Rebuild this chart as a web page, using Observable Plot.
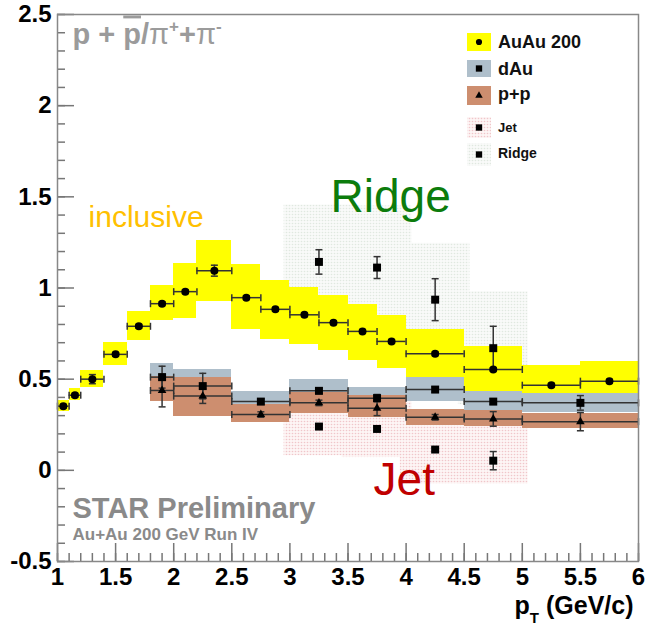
<!DOCTYPE html>
<html><head><meta charset="utf-8">
<script src="https://cdn.jsdelivr.net/npm/d3@7"></script>
<script src="https://cdn.jsdelivr.net/npm/@observablehq/plot@0.6"></script>
<style>
html,body{margin:0;padding:0;background:#fff;}
#wrap{position:relative;width:646px;height:629px;}
</style></head><body>
<svg width="0" height="0" style="position:absolute">
<defs>
<pattern id="jetDots" width="3" height="3" patternUnits="userSpaceOnUse"><rect width="3" height="3" fill="#fdf5f5"/><circle cx="1.5" cy="1.5" r="0.8" fill="#f0c6ca"/></pattern>
<pattern id="ridgeDots" width="3" height="3" patternUnits="userSpaceOnUse"><rect width="3" height="3" fill="#f9faf9"/><circle cx="1.5" cy="1.5" r="0.8" fill="#e0e8e0"/></pattern>
</defs></svg>
<div id="wrap"></div>
<script>
// ---------- Data ----------
// Au+Au 200 inclusive (p+pbar)/(pi+ + pi-)
const auX     = [1.05,1.15,1.3,1.5,1.7,1.9,2.1,2.35,2.625,2.875,3.125,3.375,3.625,3.875,4.25,4.75,5.25,5.75];
const auBinLo = [1.0,1.1,1.2,1.4,1.6,1.8,2.0,2.2,2.5,2.75,3.0,3.25,3.5,3.75,4.0,4.5,5.0,5.5];
const auBinHi = [1.1,1.2,1.4,1.6,1.8,2.0,2.2,2.5,2.75,3.0,3.25,3.5,3.75,4.0,4.5,5.0,5.5,6.0];
const auY     = [0.352,0.412,0.50,0.636,0.79,0.914,0.98,1.095,0.947,0.883,0.853,0.81,0.762,0.707,0.639,0.553,0.467,0.489];
const auErr   = [0.01,0.01,0.025,0.01,0.01,0.01,0.01,0.03,0.01,0.01,0.01,0.01,0.01,0.01,0.01,0.01,0.01,0.01];
const auSysLo = [0.32,0.383,0.455,0.575,0.71,0.82,0.835,0.925,0.775,0.72,0.69,0.655,0.605,0.56,0.51,0.43,0.42,0.42];
const auSysHi = [0.385,0.447,0.548,0.703,0.872,1.015,1.133,1.26,1.13,1.042,1.005,0.96,0.908,0.85,0.773,0.68,0.575,0.595];

// d+Au and p+p
const dpX     = [1.9,2.25,2.75,3.25,3.75,4.25,4.75,5.5];
const dpBinLo = [1.8,2.0,2.5,3.0,3.5,4.0,4.5,5.0];
const dpBinHi = [2.0,2.5,3.0,3.5,4.0,4.5,5.0,6.0];
const dY      = [0.511,0.462,0.377,0.436,0.396,0.443,0.377,0.37];
const dErr    = [0.06,0.07,0.015,0.015,0.02,0.015,0.015,0.04];
const dSysLo  = [0.434,0.37,0.322,0.372,0.336,0.375,0.325,0.319];
const dSysHi  = [0.588,0.551,0.432,0.50,0.456,0.507,0.432,0.423];
const pY      = [0.438,0.407,0.306,0.37,0.34,0.291,0.282,0.267];
const pErr    = [0.09,0.04,0.015,0.015,0.04,0.015,0.04,0.05];
const pSysLo  = [0.375,0.295,0.265,0.31,0.291,0.245,0.24,0.232];
const pSysHi  = [0.515,0.51,0.36,0.425,0.41,0.335,0.328,0.313];

// Jet and Ridge
const jrX     = [3.25,3.75,4.25,4.75];
const jrBinLo = [2.95,3.45,3.95,4.45];
const jrBinHi = [3.55,4.05,4.55,5.05];
const rY      = [1.143,1.112,0.936,0.67];
const rErr    = [0.067,0.06,0.115,0.12];
const rSysLo  = [0.833,0.80,0.626,0.36];
const rSysHi  = [1.455,1.45,1.245,0.98];
const jY      = [0.24,0.227,0.114,0.053];
const jErr    = [0.01,0.01,0.01,0.05];
const jSysLo  = [0.08,0.07,-0.075,-0.075];
const jSysHi  = [0.40,0.39,0.30,0.25];

// Axis ticks
const xTicks = [1,1.5,2,2.5,3,3.5,4,4.5,5,5.5,6];
const yTicks = [-0.5,0,0.5,1,1.5,2,2.5];
const xMinor = d3.range(10, 61).map(d => d / 10);
const yMinor = d3.range(-5, 26).map(d => d / 10);

// ---------- Build tables ----------
const mk = (X, lo, hi, Y, E, S1, S2) => X.map((x, i) => ({x, lo: lo[i], hi: hi[i], y: Y[i], e: E[i], s1: S1[i], s2: S2[i]}));
const au = mk(auX, auBinLo, auBinHi, auY, auErr, auSysLo, auSysHi);
const dau = mk(dpX, dpBinLo, dpBinHi, dY, dErr, dSysLo, dSysHi);
const pp = mk(dpX, dpBinLo, dpBinHi, pY, pErr, pSysLo, pSysHi);
const ridge = mk(jrX, jrBinLo, jrBinHi, rY, rErr, rSysLo, rSysHi);
const jet = mk(jrX, jrBinLo, jrBinHi, jY, jErr, jSysLo, jSysHi);

const capH = {draw(ctx, size) { const r = Math.sqrt(size / Math.PI); ctx.moveTo(-r, 0); ctx.lineTo(r, 0); }};
const capV = {draw(ctx, size) { const r = Math.sqrt(size / Math.PI); ctx.moveTo(0, -r); ctx.lineTo(0, r); }};
const EC = "#333";
function errMarks(data, horiz) {
  const m = [];
  if (horiz) {
    m.push(Plot.ruleY(data, {y: "y", x1: "lo", x2: "hi", stroke: EC, strokeWidth: 1.5}));
    m.push(Plot.dot(data, {x: "lo", y: "y", symbol: capV, r: 3.5, fill: "none", stroke: EC, strokeWidth: 1.5}));
    m.push(Plot.dot(data, {x: "hi", y: "y", symbol: capV, r: 3.5, fill: "none", stroke: EC, strokeWidth: 1.5}));
  }
  m.push(Plot.ruleX(data, {x: "x", y1: d => d.y - d.e, y2: d => d.y + d.e, stroke: EC, strokeWidth: 1.5}));
  m.push(Plot.dot(data, {x: "x", y: d => d.y - d.e, symbol: capH, r: 3.5, fill: "none", stroke: EC, strokeWidth: 1.5}));
  m.push(Plot.dot(data, {x: "x", y: d => d.y + d.e, symbol: capH, r: 3.5, fill: "none", stroke: EC, strokeWidth: 1.5}));
  return m;
}
const FONT = "'Liberation Sans', Arial, Helvetica, sans-serif";
const W = 646, H = 629, ML = 57, MR = 8, MT = 14, MB = 68;
const FW = W - ML - MR, FH = H - MT - MB;
const TITLE = "p + p/π+π-";
const XLABEL = "pT (GeV/c)";

const chart = Plot.plot({
  width: W, height: H,
  marginLeft: ML, marginRight: MR, marginTop: MT, marginBottom: MB,
  style: {fontFamily: FONT, background: "white", overflow: "visible"},
  x: {domain: [1, 6]},
  y: {domain: [-0.5, 2.5]},
  marks: [
    Plot.rect(ridge, {x1: "lo", x2: "hi", y1: "s1", y2: "s2", fill: "url(#ridgeDots)"}),
    Plot.rect(jet, {x1: "lo", x2: "hi", y1: "s1", y2: "s2", fill: "url(#jetDots)"}),
    Plot.rect(au, {x1: "lo", x2: "hi", y1: "s1", y2: "s2", fill: "#ffff00", shapeRendering: "crispEdges"}),
    Plot.rect(dau, {x1: "lo", x2: "hi", y1: "s1", y2: "s2", fill: "#afbfcb", shapeRendering: "crispEdges"}),
    Plot.rect(pp, {x1: "lo", x2: "hi", y1: "s1", y2: "s2", fill: "#cd8e6f", shapeRendering: "crispEdges"}),
    ...errMarks(au, true),
    ...errMarks(dau, true),
    ...errMarks(pp, true),
    ...errMarks(ridge, false),
    ...errMarks(jet, false),
    Plot.dot(au, {x: "x", y: "y", r: 4, fill: "black"}),
    Plot.dot(dau, {x: "x", y: "y", symbol: "square", r: 4.5, fill: "black"}),
    Plot.dot(pp, {x: "x", y: "y", symbol: "triangle", r: 3.2, fill: "black"}),
    Plot.dot(ridge, {x: "x", y: "y", symbol: "square", r: 4.5, fill: "black"}),
    Plot.dot(jet, {x: "x", y: "y", symbol: "square", r: 4.5, fill: "black"}),
    // ticks (inward)
    Plot.tickX(xMinor, {x: d => d, insetTop: FH - 8, stroke: "#777", strokeWidth: 1.5}),
    Plot.tickX(xTicks, {x: d => d, insetTop: FH - 18, stroke: "#777", strokeWidth: 1.5}),
    Plot.tickY(yMinor, {y: d => d, insetRight: FW - 8, stroke: "#777", strokeWidth: 1.5}),
    Plot.tickY(yTicks, {y: d => d, insetRight: FW - 17, stroke: "#777", strokeWidth: 1.5}),
    Plot.frame({stroke: "#888", strokeWidth: 1.5}),
    Plot.axisX({ticks: xTicks, tickSize: 0, tickPadding: 6, tickFormat: d => String(d), fontSize: 24, fontWeight: "bold", label: null, fill: "black"}),
    Plot.axisY({ticks: yTicks, tickSize: 0, tickPadding: 6, tickFormat: d => String(d), fontSize: 24, fontWeight: "bold", label: null, fill: "black"}),
    // annotations
    Plot.text(["inclusive"], {x: 1.267, y: 1.335, text: d => d, textAnchor: "start", lineAnchor: "bottom", fontSize: 30, fill: "#ffc000"}),
    Plot.text(["Ridge"], {x: 3.35, y: 1.418, text: d => d, textAnchor: "start", lineAnchor: "bottom", fontSize: 46, fill: "#0c7c0c"}),
    Plot.text(["Jet"], {x: 3.72, y: -0.137, text: d => d, textAnchor: "start", lineAnchor: "bottom", fontSize: 46, fill: "#c00000"}),
    Plot.text([TITLE], {frameAnchor: "top-left", dx: 15, dy: 29, text: d => d, textAnchor: "start", lineAnchor: "bottom", fontSize: 29, fontWeight: "bold", fill: "#9b9b9b"}),
    Plot.text(["STAR Preliminary"], {frameAnchor: "bottom-left", dx: 15, dy: -43.7, text: d => d, textAnchor: "start", lineAnchor: "bottom", fontSize: 29, fontWeight: "bold", fill: "#8a8a8a"}),
    Plot.text(["Au+Au 200 GeV Run IV"], {frameAnchor: "bottom-left", dx: 15, dy: -21.7, text: d => d, textAnchor: "start", lineAnchor: "bottom", fontSize: 17, fontWeight: "bold", fill: "#8a8a8a"}),
    Plot.text([XLABEL], {frameAnchor: "bottom-right", dx: -5, dy: 52, text: d => d, textAnchor: "end", lineAnchor: "bottom", fontSize: 25, fontWeight: "bold", fill: "black"})
  ]
});
document.getElementById("wrap").appendChild(chart);

// rich text: title with overline and superscripts; axis label with subscript
const findText = s => d3.select(chart).selectAll("text").filter(function () { return this.textContent === s; });
const tt = findText(TITLE);
tt.text(null);
tt.append("tspan").text("p + ");
tt.append("tspan").text("p").style("text-decoration", "overline");
tt.append("tspan").text("/");
tt.append("tspan").text("π").attr("font-weight", "normal");
tt.append("tspan").text("+").attr("font-size", 17).attr("dy", -12);
tt.append("tspan").text("+").attr("dy", 12);
tt.append("tspan").text("π").attr("font-weight", "normal");
tt.append("tspan").text("-").attr("font-size", 17).attr("dy", -12);

const xl = findText(XLABEL);
xl.text(null);
xl.append("tspan").text("p");
xl.append("tspan").text("T").attr("font-size", 15).attr("dy", 9);
xl.append("tspan").text(" (GeV/c)").attr("dy", -9);

// ---------- Legend ----------
const legendItems = [
  {label: "AuAu 200", fill: "#ffff00", sym: d3.symbolCircle, size: 30, top: 33, h: 18, fs: 18, base: 48},
  {label: "dAu", fill: "#afbfcb", sym: d3.symbolSquare, size: 40, top: 60, h: 17, fs: 18, base: 74.5},
  {label: "p+p", fill: "#cd8e6f", sym: d3.symbolTriangle, size: 24, top: 86, h: 19, fs: 18, base: 100},
  {label: "Jet", fill: "url(#jetDots)", sym: d3.symbolSquare, size: 40, top: 117, h: 21, fs: 13, base: 132},
  {label: "Ridge", fill: "url(#ridgeDots)", sym: d3.symbolSquare, size: 40, top: 143, h: 23, fs: 14, base: 158}
];
const lg = d3.select("#wrap").append("svg")
  .attr("width", W).attr("height", H)
  .style("position", "absolute").style("left", 0).style("top", 0)
  .style("pointer-events", "none").style("font-family", FONT);
for (const it of legendItems) {
  lg.append("rect").attr("x", 467).attr("y", it.top).attr("width", 24).attr("height", it.h).attr("fill", it.fill);
  lg.append("path").attr("d", d3.symbol(it.sym, it.size)()).attr("transform", `translate(479,${it.top + it.h / 2})`).attr("fill", "black");
  lg.append("text").attr("x", 498).attr("y", it.base).attr("font-size", it.fs).attr("font-weight", "bold").attr("fill", "#111").text(it.label);
}
</script>
</body></html>
